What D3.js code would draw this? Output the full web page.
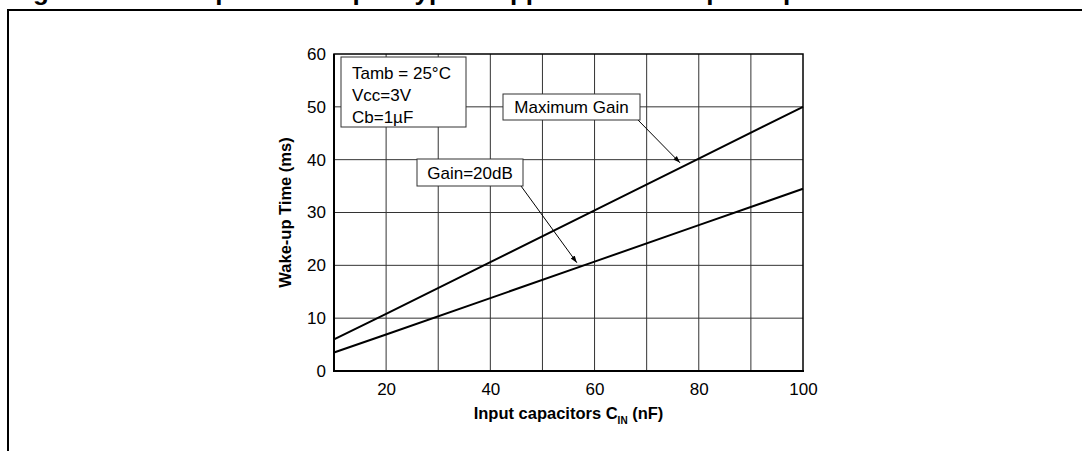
<!DOCTYPE html>
<html><head><meta charset="utf-8">
<script src="https://cdn.jsdelivr.net/npm/d3@7"></script>
<style>
html,body{margin:0;padding:0;background:#fff;}
svg{display:block;font-family:"Liberation Sans",Arial,sans-serif;}
</style></head>
<body>
<svg id="c" width="1082" height="451"></svg>
<script>
const titleText = "Figure 55. Startup & wake-up in typical application vs. input capacitors";
const capacitance = [10, 20, 40, 60, 80, 100];
const maxGain = [6, 10.8, 20.6, 30.4, 40.2, 50];
const gain20dB = [3.5, 6.9, 13.8, 20.7, 27.6, 34.5];
const xTicks = [20, 40, 60, 80, 100];
const yTicks = [0, 10, 20, 30, 40, 50, 60];
const xGrid = [20, 30, 40, 50, 60, 70, 80, 90];
const yGrid = [10, 20, 30, 40, 50];
const conditions = ["Tamb = 25\u00B0C", "Vcc=3V", "Cb=1\u00B5F"];

const svg = d3.select("#c");
const x = d3.scaleLinear().domain([10, 100]).range([334, 803]);
const y = d3.scaleLinear().domain([0, 60]).range([371, 54]);
const FS = 17;

// title, cut off by the top of the picture (only descenders show)
svg.append("text").attr("x", 10).attr("y", 0).attr("font-weight", "bold")
  .attr("font-size", 26).text(titleText);

// outer frame
svg.append("path").attr("d", "M8,451V10H1090").attr("fill", "none")
  .attr("stroke", "#000").attr("stroke-width", 2);

// grid
const g = svg.append("g");
g.selectAll(".vg").data(xGrid).join("line")
  .attr("x1", d => x(d)).attr("x2", d => x(d)).attr("y1", y(0)).attr("y2", y(60))
  .attr("stroke", "#333").attr("stroke-width", 1);
g.selectAll(".hg").data(yGrid).join("line")
  .attr("y1", d => y(d)).attr("y2", d => y(d)).attr("x1", x(10)).attr("x2", x(100))
  .attr("stroke", "#333").attr("stroke-width", 1);

// border
g.append("rect").attr("x", x(10)).attr("y", y(60)).attr("width", x(100) - x(10))
  .attr("height", y(0) - y(60)).attr("fill", "none").attr("stroke", "#000").attr("stroke-width", 1.5);
g.append("line").attr("x1", x(10)).attr("x2", x(10)).attr("y1", y(60)).attr("y2", y(0) + 1)
  .attr("stroke", "#000").attr("stroke-width", 2);
g.append("line").attr("x1", x(10) - 1).attr("x2", x(100) + 1).attr("y1", y(0)).attr("y2", y(0))
  .attr("stroke", "#000").attr("stroke-width", 2);

// axes
const xAxis = d3.axisBottom(x).tickValues(xTicks).tickSize(0).tickPadding(12);
const ax = svg.append("g").attr("transform", `translate(0,${y(0)})`).call(xAxis);
ax.select(".domain").remove();
ax.selectAll("text").attr("font-size", FS).attr("fill", "#000")
  .attr("font-family", "Liberation Sans, Arial, sans-serif");

const yAxis = d3.axisLeft(y).tickValues(yTicks).tickSize(0).tickPadding(8);
const ay = svg.append("g").attr("transform", `translate(${x(10)},0)`).call(yAxis);
ay.select(".domain").remove();
ay.selectAll("text").attr("font-size", FS).attr("fill", "#000")
  .attr("font-family", "Liberation Sans, Arial, sans-serif");

// axis titles
svg.append("text").attr("transform", `translate(291,${(y(0) + y(60)) / 2}) rotate(-90)`)
  .attr("text-anchor", "middle").attr("font-weight", "bold").attr("font-size", 16.5)
  .text("Wake-up Time (ms)");
const xt = svg.append("text").attr("x", (x(10) + x(100)) / 2).attr("y", 419)
  .attr("text-anchor", "middle").attr("font-weight", "bold").attr("font-size", 16.5);
xt.append("tspan").text("Input capacitors C");
xt.append("tspan").attr("font-size", 10).attr("dy", 5).text("IN");
xt.append("tspan").attr("dy", -5).text(" (nF)");

// series lines
const line = d3.line().x((d, i) => x(capacitance[i])).y(d => y(d));
[maxGain, gain20dB].forEach(s => {
  svg.append("path").datum(s).attr("d", line).attr("fill", "none")
    .attr("stroke", "#000").attr("stroke-width", 2);
});

// conditions box
const cb = svg.append("g");
cb.append("rect").attr("x", 341).attr("y", 57).attr("width", 125).attr("height", 70)
  .attr("fill", "#fff").attr("stroke", "#333").attr("stroke-width", 1);
conditions.forEach((t, i) => {
  cb.append("text").attr("x", 352).attr("y", 79 + i * 22).attr("font-size", FS).text(t);
});

// arrow markers
svg.append("defs").append("marker").attr("id", "ah").attr("viewBox", "0 0 10 10")
  .attr("refX", 10).attr("refY", 5).attr("markerWidth", 7).attr("markerHeight", 7)
  .attr("orient", "auto").append("path").attr("d", "M0,1.5L10,5L0,8.5Z").attr("fill", "#000");

function callout(label, bx, by, bw, bh, cx, cy) {
  const gg = svg.append("g");
  gg.append("line").attr("x1", bx + bw - 2).attr("y1", by + bh)
    .attr("x2", x(cx)).attr("y2", y(cy)).attr("stroke", "#000").attr("stroke-width", 1)
    .attr("marker-end", "url(#ah)");
  gg.append("rect").attr("x", bx).attr("y", by).attr("width", bw).attr("height", bh)
    .attr("fill", "#fff").attr("stroke", "#333").attr("stroke-width", 1);
  gg.append("text").attr("x", bx + bw / 2).attr("y", by + bh / 2 + 6)
    .attr("text-anchor", "middle").attr("font-size", FS).text(label);
}
callout("Maximum Gain", 503, 94, 137, 26, 76.4, 39.4);
callout("Gain=20dB", 417, 159, 106, 27, 56.6, 20.5);
</script>
</body></html>
